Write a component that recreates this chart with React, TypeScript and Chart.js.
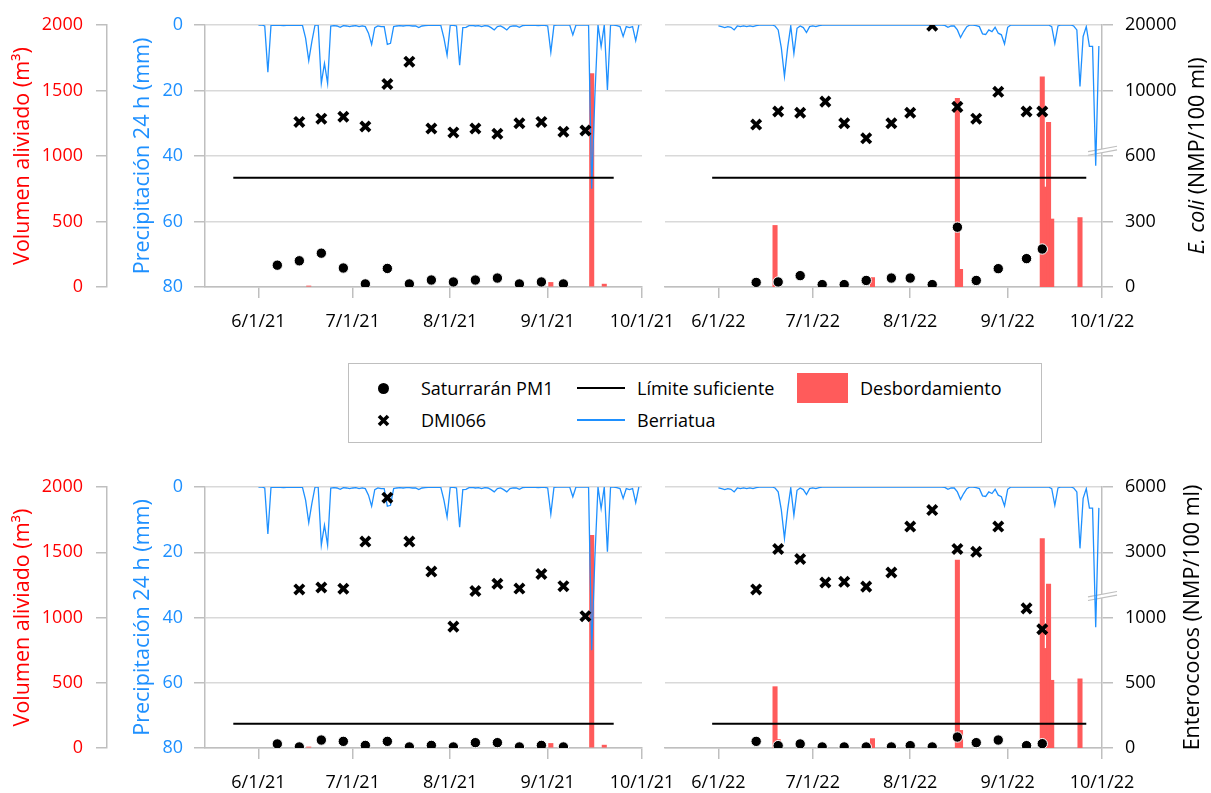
import { useEffect, useRef } from "react";
import { Chart, registerables } from "chart.js";

Chart.register(...registerables);

const FONT = "'Open Sans', 'Liberation Sans', sans-serif";
Chart.defaults.font.family = FONT;
Chart.defaults.color = "#000";

const RED_AXIS = "#FF0000";
const BLUE = "#1E90FF";
const BAR_RED = "#FF5B5B";
const GRID = "#D9D9D9";
const AXIS_GRAY = "#BFBFBF";

// ---------- axes ----------
const RANGE_2021 = ["2021-05-15", "2021-10-01"];
const RANGE_2022 = ["2022-05-15", "2022-10-01"];
const TICKS_2021 = ["2021-06-01", "2021-07-01", "2021-08-01", "2021-09-01", "2021-10-01"];
const TICKS_2022 = ["2022-06-01", "2022-07-01", "2022-08-01", "2022-09-01", "2022-10-01"];
const TICK_LABELS_2021 = ["6/1/21", "7/1/21", "8/1/21", "9/1/21", "10/1/21"];
const TICK_LABELS_2022 = ["6/1/22", "7/1/22", "8/1/22", "9/1/22", "10/1/22"];

const VOLUME_MAX = 2000;
const VOLUME_STEP = 500;
const RAIN_MAX = 80;
const RAIN_STEP = 20;
const ECOLI_TICK_LABELS = ["0", "300", "600", "10000", "20000"];
const ENTERO_TICK_LABELS = ["0", "500", "1000", "3000", "6000"];

// ---------- precipitation Berriatua (mm, daily from start date) ----------
const RAIN_START_2021 = "2021-06-01";
const rain2021 = [
  0, 0, 0.3, 14.4, 0, 0.1, 0.1, 0.1, 0.2, 0.1,
  0.1, 0.1, 0.1, 0.1, 0.1, 4, 10.9, 5, 0, 0,
  17.8, 11.7, 17.8, 0.3, 0.2, 0.3, 0.7, 0.2, 0.3, 0.5,
  0.3, 0.2, 0.5, 0.3, 0.5, 2.5, 5.9, 0.8, 0.3, 0.5,
  0.5, 5.9, 5.6, 0.5, 0.3, 0.2, 0.3, 0.2, 0.2, 0.3,
  0.3, 0.8, 0.3, 0.2, 0.1, 0.1, 0.1, 0.1, 0.1, 4,
  9.2, 0.1, 0.1, 0.3, 12.3, 0.8, 0.7, 0.2, 0.1, 0.3,
  0.2, 0.5, 0.2, 0.3, 0.8, 1.5, 0.5, 0.3, 0.8, 1.5,
  0.5, 0.3, 0.3, 0.7, 0.2, 0.1, 0.1, 0.1, 0.1, 0.2,
  0.1, 0.1, 0.3, 8.3, 0.1, 0, 0, 0, 0, 0,
  3, 0, 0, 0, 0, 0, 50, 22, 0, 6.6,
  0, 19.8, 0, 0, 0.2, 0.5, 3.5, 0.5, 0.8, 0.5,
  4.8, 0,
];
const RAIN_START_2022 = "2022-06-01";
const rain2022 = [
  0.3, 0.5, 0.8, 0.5, 0.7, 1.5, 0.3, 0.5, 0.3, 0.5,
  0.3, 0.5, 0.2, 0, 0, 0, 0, 0, 0.3, 1.5,
  7, 15.7, 7, 0.3, 8.7, 1, 0.3, 0.8, 2.3, 0.5,
  0.3, 0.5, 0.2, 0, 0, 0, 0, 0, 0, 0,
  0, 0, 0, 0, 0, 0, 0, 0, 0, 0,
  0, 0, 0, 0, 0, 0, 0, 0, 0, 0,
  0, 0, 0, 0, 0, 0, 0, 0, 0, 0,
  0, 0, 0.1, 0.7, 0.3, 0.3, 1.5, 3.8, 2, 0.5,
  0, 0, 0.2, 0.5, 2.7, 2.9, 1.5, 2, 0.7, 2.5,
  3, 5.8, 0.7, 0, 0, 0, 0, 0, 0, 0,
  0, 0, 0, 0, 0, 0, 0.5, 5.6, 0.3, 0,
  0, 0, 0, 0.3, 1.5, 18.8, 3.5, 0.5, 6.5, 6.5,
  43, 6.4,
];

// ---------- overflow (m3) ----------
const overflowDates2021 = ["2021-06-17", "2021-09-02", "2021-09-15", "2021-09-19"];
const overflow2021 = [8, 35, 1630, 22];
const overflowDates2022 = [
  "2022-06-19", "2022-06-20", "2022-07-20", "2022-08-16", "2022-08-17",
  "2022-09-12", "2022-09-13", "2022-09-14", "2022-09-15", "2022-09-24",
];
const overflow2022 = [470, 65, 72, 1440, 135, 1605, 763, 1257, 519, 530];

// ---------- sampling dates ----------
const pm1Dates2021 = [
  "2021-06-07", "2021-06-14", "2021-06-21", "2021-06-28", "2021-07-05", "2021-07-12", "2021-07-19",
  "2021-07-26", "2021-08-02", "2021-08-09", "2021-08-16", "2021-08-23", "2021-08-30", "2021-09-06",
];
const dmiDates2021 = [
  "2021-06-14", "2021-06-21", "2021-06-28", "2021-07-05", "2021-07-12", "2021-07-19", "2021-07-26",
  "2021-08-02", "2021-08-09", "2021-08-16", "2021-08-23", "2021-08-30", "2021-09-06", "2021-09-13",
];
const pm1Dates2022 = [
  "2022-06-13", "2022-06-20", "2022-06-27", "2022-07-04", "2022-07-11", "2022-07-18", "2022-07-26",
  "2022-08-01", "2022-08-08", "2022-08-16", "2022-08-22", "2022-08-29", "2022-09-07", "2022-09-12",
];
const dmiDates2022 = [
  "2022-06-13", "2022-06-20", "2022-06-27", "2022-07-05", "2022-07-11", "2022-07-18", "2022-07-26",
  "2022-08-01", "2022-08-08", "2022-08-16", "2022-08-22", "2022-08-29", "2022-09-07", "2022-09-12",
];

// ---------- E. coli (NMP/100 ml) ----------
const ecoliPM1_2021 = [100, 120, 155, 87, 14, 85, 14, 32, 23, 32, 41, 14, 23, 14];
const ecoliDMI_2021 = [5200, 5700, 6000, 4500, 11000, 14400, 4200, 3600, 4200, 3400, 5000, 5200, 3700, 3900];
const ecoliPM1_2022 = [21, 23, 52, 11, 11, 30, 41, 41, 11, 274, 30, 84, 130, 174];
const ecoliDMI_2022 = [4800, 6800, 6600, 8300, 5000, 2700, 5000, 6600, 19900, 7500, 5700, 9800, 6800, 6800];

// ---------- Enterococos (NMP/100 ml) ----------
const enteroPM1_2021 = [31, 8, 61, 51, 20, 51, 8, 20, 8, 41, 41, 8, 20, 8];
const enteroDMI_2021 = [1290, 1380, 1320, 3490, 5510, 3490, 2110, 930, 1220, 1550, 1330, 2000, 1440, 1010];
const enteroPM1_2022 = [51, 18, 31, 8, 8, 8, 8, 18, 8, 84, 41, 61, 18, 33];
const enteroDMI_2022 = [1290, 3150, 2690, 1610, 1640, 1420, 2070, 4180, 4940, 3150, 3020, 4180, 1070, 910];

// ---------- limits ----------
const LIMIT_SPAN_2021 = ["2021-05-24", "2021-09-22"];
const LIMIT_SPAN_2022 = ["2022-05-30", "2022-09-26"];
const ECOLI_LIMIT = 500;
const ENTERO_LIMIT = 185;

const SERIES = {
  pm1: "Saturrarán PM1",
  dmi: "DMI066",
  limit: "Límite suficiente",
  rain: "Berriatua",
  overflow: "Desbordamiento",
};

// broken right axis: two lower intervals of lowStep, then intervals of highStep
const ECOLI_AXIS = { lowStep: 300, highStep: 10000, split: 600, lowIntervals: 2, breakAt: 2.08, labels: ECOLI_TICK_LABELS };
const ENTERO_AXIS = { lowStep: 500, highStep: 3000, split: 1150, lowIntervals: 2, breakAt: 2.33, labels: ENTERO_TICK_LABELS };
const toAxis = (a: any, v: number) => (v <= a.split ? v / a.lowStep : a.lowIntervals + v / a.highStep);

const dayOf = (s: string) => Math.round(Date.parse(s + "T00:00:00Z") / 86400000);

const PANELS = [
  {
    side: "left", top: 0, padTop: 25, xH: 58,
    range: RANGE_2021, ticks: TICKS_2021, tickLabels: TICK_LABELS_2021,
    rainStart: RAIN_START_2021, rain: rain2021,
    ovDates: overflowDates2021, ov: overflow2021,
    pm1Dates: pm1Dates2021, pm1: ecoliPM1_2021, dmiDates: dmiDates2021, dmi: ecoliDMI_2021,
    axis: ECOLI_AXIS, limit: ECOLI_LIMIT, limitSpan: LIMIT_SPAN_2021,
  },
  {
    side: "right", top: 0, padTop: 25, xH: 58,
    range: RANGE_2022, ticks: TICKS_2022, tickLabels: TICK_LABELS_2022,
    rainStart: RAIN_START_2022, rain: rain2022,
    ovDates: overflowDates2022, ov: overflow2022,
    pm1Dates: pm1Dates2022, pm1: ecoliPM1_2022, dmiDates: dmiDates2022, dmi: ecoliDMI_2022,
    axis: ECOLI_AXIS, limit: ECOLI_LIMIT, limitSpan: LIMIT_SPAN_2022,
    title: [{ t: "E. coli", i: true }, { t: " (NMP/100 ml)", i: false }], titleX: 1198,
  },
  {
    side: "left", top: 448, padTop: 39, xH: 45,
    range: RANGE_2021, ticks: TICKS_2021, tickLabels: TICK_LABELS_2021,
    rainStart: RAIN_START_2021, rain: rain2021,
    ovDates: overflowDates2021, ov: overflow2021,
    pm1Dates: pm1Dates2021, pm1: enteroPM1_2021, dmiDates: dmiDates2021, dmi: enteroDMI_2021,
    axis: ENTERO_AXIS, limit: ENTERO_LIMIT, limitSpan: LIMIT_SPAN_2021,
  },
  {
    side: "right", top: 448, padTop: 39, xH: 45,
    range: RANGE_2022, ticks: TICKS_2022, tickLabels: TICK_LABELS_2022,
    rainStart: RAIN_START_2022, rain: rain2022,
    ovDates: overflowDates2022, ov: overflow2022,
    pm1Dates: pm1Dates2022, pm1: enteroPM1_2022, dmiDates: dmiDates2022, dmi: enteroDMI_2022,
    axis: ENTERO_AXIS, limit: ENTERO_LIMIT, limitSpan: LIMIT_SPAN_2022,
    title: [{ t: "Enterococos (NMP/100 ml)", i: false }], titleX: 1193,
  },
];

const CANVAS_W = 1211;
const CANVAS_H = 345;
const TITLE_SIZE = 21.5;
const TICK_SIZE = 18;

function buildConfig(p: any) {
  const left = p.side === "left";
  const start = dayOf(p.rainStart);
  const datasets: any[] = [
    {
      type: "line", label: SERIES.pm1, yAxisID: "yB", showLine: false, order: 0,
      data: p.pm1Dates.map((d: string, i: number) => ({ x: dayOf(d), y: toAxis(p.axis, p.pm1[i]) })),
      pointStyle: "circle", pointRadius: 5.2, pointBackgroundColor: "#000",
      pointBorderColor: "#fff", pointBorderWidth: 1,
    },
    {
      type: "line", label: SERIES.dmi, yAxisID: "yB", showLine: false, order: 1,
      data: p.dmiDates.map((d: string, i: number) => ({ x: dayOf(d), y: toAxis(p.axis, p.dmi[i]) })),
      pointStyle: "crossRot", pointRadius: 6.6, pointBorderColor: "#000", pointBorderWidth: 3.8,
    },
    {
      type: "line", label: SERIES.limit, yAxisID: "yB", order: 2,
      data: p.limitSpan.map((d: string) => ({ x: dayOf(d), y: toAxis(p.axis, p.limit) })),
      borderColor: "#000", borderWidth: 2, pointRadius: 0,
    },
    {
      type: "line", label: SERIES.rain, yAxisID: "yP", order: 3, clip: 0,
      data: p.rain.map((v: number, i: number) => ({ x: start + i, y: v })),
      borderColor: BLUE, borderWidth: 1.3, pointRadius: 0, tension: 0,
    },
    {
      type: "bar", label: SERIES.overflow, yAxisID: "yV", order: 4,
      data: p.ovDates.map((d: string, i: number) => ({ x: dayOf(d), y: p.ov[i] })),
      backgroundColor: BAR_RED, barThickness: 4.4, borderWidth: 0,
    },
  ];

  const breakPlugin = {
    id: "axisBreak",
    beforeDatasetsDraw(chart: any) {
      if (left) return;
      const s = chart.scales.yB;
      const ctx = chart.ctx;
      const x = s.left;
      const y = s.getPixelForValue(p.axis.breakAt);
      const x0 = x - 14, x1 = x + 15;
      const dy = 2.7, gap = 1.8;
      ctx.save();
      ctx.fillStyle = "#fff";
      ctx.beginPath();
      ctx.moveTo(x0, y + dy - gap);
      ctx.lineTo(x1, y - dy - gap);
      ctx.lineTo(x1, y - dy + gap);
      ctx.lineTo(x0, y + dy + gap);
      ctx.closePath();
      ctx.fill();
      ctx.strokeStyle = AXIS_GRAY;
      ctx.lineWidth = 1.2;
      ctx.beginPath();
      ctx.moveTo(x0, y + dy - gap);
      ctx.lineTo(x1, y - dy - gap);
      ctx.moveTo(x0, y + dy + gap);
      ctx.lineTo(x1, y - dy + gap);
      ctx.stroke();
      ctx.restore();
    },
  };

  const titlePlugin = {
    id: "rightTitle",
    afterDraw(chart: any) {
      if (!p.title) return;
      const ctx = chart.ctx;
      const a = chart.chartArea;
      const cy = (a.top + a.bottom) / 2;
      ctx.save();
      ctx.translate(p.titleX, cy);
      ctx.rotate(-Math.PI / 2);
      ctx.textBaseline = "middle";
      ctx.fillStyle = "#000";
      const fonts = p.title.map((pt: any) => `${pt.i ? "italic " : ""}${TITLE_SIZE}px ${FONT}`);
      const widths = p.title.map((pt: any, k: number) => {
        ctx.font = fonts[k];
        return ctx.measureText(pt.t).width;
      });
      let x = -widths.reduce((s: number, w: number) => s + w, 0) / 2;
      p.title.forEach((pt: any, k: number) => {
        ctx.font = fonts[k];
        ctx.textAlign = "left";
        ctx.fillText(pt.t, x, 0);
        x += widths[k];
      });
      ctx.restore();
    },
  };

  const tickFont = { size: TICK_SIZE };
  const fixWidth = (w: number) => (s: any) => {
    s.width = s.options.display ? w : 0;
  };

  return {
    type: "line",
    data: { datasets },
    options: {
      responsive: false,
      animation: false,
      events: [],
      layout: {
        padding: left
          ? { left: 0, right: CANVAS_W - 642, top: p.padTop, bottom: 0 }
          : { left: 665, right: 0, top: p.padTop, bottom: 0 },
      },
      plugins: { legend: { display: false }, tooltip: { enabled: false } },
      scales: {
        x: {
          type: "linear", position: "bottom", bounds: "data", offset: false,
          min: dayOf(p.range[0]), max: dayOf(p.range[1]),
          afterBuildTicks: (s: any) => {
            s.ticks = p.ticks.map((d: string) => ({ value: dayOf(d) }));
          },
          afterFit: (s: any) => { s.height = p.xH; },
          ticks: {
            autoSkip: false, maxRotation: 0, minRotation: 0, padding: 13, color: "#000", font: tickFont,
            callback: (_v: any, i: number) => p.tickLabels[i],
          },
          grid: { drawOnChartArea: false, drawTicks: true, tickLength: 11, color: AXIS_GRAY, lineWidth: 1.5, offset: false },
          border: { display: true, color: AXIS_GRAY, width: 1.5 },
        },
        yP: {
          type: "linear", position: "left", display: left, weight: 0,
          min: 0, max: RAIN_MAX, reverse: true,
          afterFit: fixWidth(98),
          ticks: { stepSize: RAIN_STEP, color: BLUE, padding: 11, font: tickFont },
          grid: { drawOnChartArea: false, tickLength: 11, color: AXIS_GRAY, lineWidth: 1.5 },
          border: { display: true, color: AXIS_GRAY, width: 1.5 },
          title: {
            display: true, text: "Precipitación 24 h (mm)", color: BLUE,
            font: { size: TITLE_SIZE }, padding: { top: 23, bottom: 0 },
          },
        },
        yV: {
          type: "linear", position: "left", display: left, weight: 1,
          min: 0, max: VOLUME_MAX,
          afterFit: fixWidth(107),
          ticks: { stepSize: VOLUME_STEP, color: RED_AXIS, padding: 13, font: tickFont, callback: (v: any) => String(v) },
          grid: { drawOnChartArea: true, tickLength: 11, color: GRID, tickColor: AXIS_GRAY, lineWidth: 1.5 },
          border: { display: true, color: AXIS_GRAY, width: 1.5 },
          title: {
            display: true, text: "Volumen aliviado (m³)", color: RED_AXIS,
            font: { size: TITLE_SIZE }, padding: { top: 10, bottom: 0 },
          },
        },
        yB: {
          type: "linear", position: "right", display: !left,
          min: 0, max: p.axis.labels.length - 1,
          afterFit: fixWidth(CANVAS_W - 1102),
          ticks: { stepSize: 1, color: "#000", padding: 12, font: tickFont, callback: (_v: any, i: number) => p.axis.labels[i] },
          grid: { drawOnChartArea: true, tickLength: 11, color: GRID, tickColor: AXIS_GRAY, lineWidth: 1.5 },
          border: { display: true, color: AXIS_GRAY, width: 1.5 },
        },
      },
    },
    plugins: [breakPlugin, titlePlugin],
  };
}

function Panel({ spec }: { spec: any }) {
  const ref = useRef<HTMLCanvasElement | null>(null);
  useEffect(() => {
    const chart = new Chart(ref.current as HTMLCanvasElement, buildConfig(spec) as any);
    return () => chart.destroy();
  }, [spec]);
  return (
    <canvas
      ref={ref}
      width={CANVAS_W}
      height={CANVAS_H}
      style={{ position: "absolute", left: 0, top: spec.top, width: CANVAS_W, height: CANVAS_H }}
    />
  );
}

function LegendText({ left, cy, text }: { left: number; cy: number; text: string }) {
  return (
    <div style={{ position: "absolute", left, top: cy - 13, height: 26, lineHeight: "26px", whiteSpace: "nowrap" }}>
      {text}
    </div>
  );
}

function Legend() {
  return (
    <div
      style={{
        position: "absolute", left: 348, top: 363, width: 694, height: 80,
        border: `1px solid ${AXIS_GRAY}`, boxSizing: "border-box", background: "#fff",
        fontFamily: FONT, fontSize: 18, color: "#000",
      }}
    >
      <div style={{ position: "absolute", left: 29, top: 19, width: 11, height: 11, borderRadius: "50%", background: "#000" }} />
      <svg style={{ position: "absolute", left: 28, top: 50 }} width={13} height={13}>
        <path d="M2 2 L11 11 M11 2 L2 11" stroke="#000" strokeWidth={3.6} />
      </svg>
      <LegendText left={72} cy={24} text={SERIES.pm1} />
      <LegendText left={72} cy={56} text={SERIES.dmi} />
      <div style={{ position: "absolute", left: 228, top: 23, width: 48, height: 2, background: "#000" }} />
      <div style={{ position: "absolute", left: 228, top: 55, width: 48, height: 1.5, background: BLUE }} />
      <LegendText left={288} cy={24} text={SERIES.limit} />
      <LegendText left={288} cy={56} text={SERIES.rain} />
      <div style={{ position: "absolute", left: 448, top: 9, width: 51, height: 30, background: BAR_RED }} />
      <LegendText left={511} cy={24} text={SERIES.overflow} />
    </div>
  );
}

export default function App() {
  return (
    <div
      style={{
        position: "absolute", left: 0, top: 0, width: CANVAS_W, height: 793,
        overflow: "hidden", background: "#fff", fontFamily: FONT,
      }}
    >
      {PANELS.map((spec, k) => (
        <Panel key={k} spec={spec} />
      ))}
      <Legend />
    </div>
  );
}
